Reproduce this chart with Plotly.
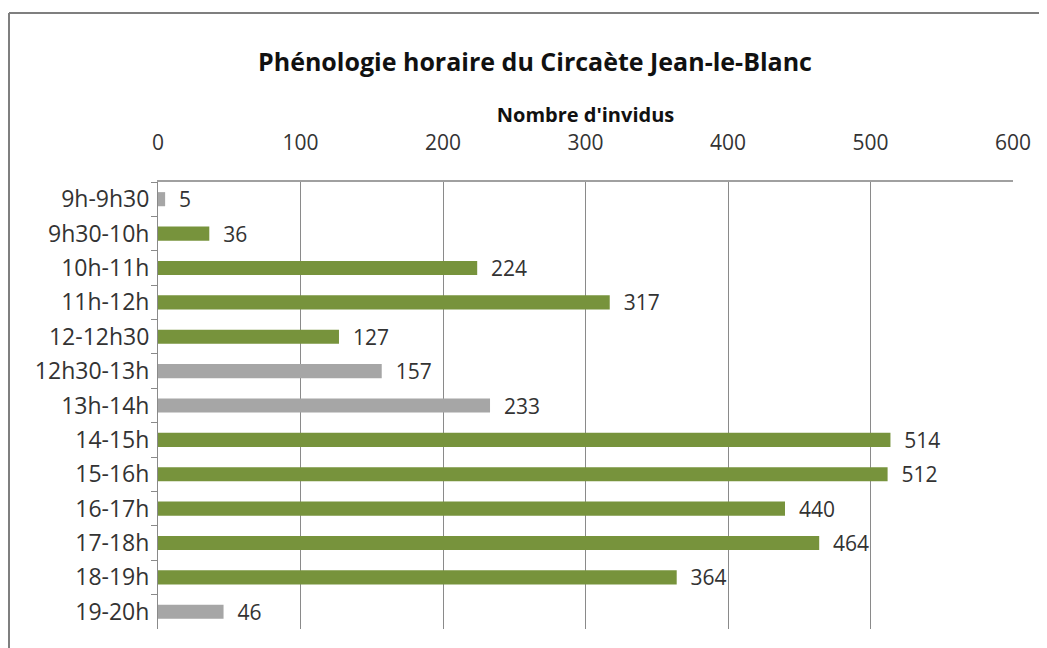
import plotly.graph_objects as go

categories = ["9h-9h30", "9h30-10h", "10h-11h", "11h-12h", "12-12h30", "12h30-13h", "13h-14h",
              "14-15h", "15-16h", "16-17h", "17-18h", "18-19h", "19-20h"]
counts = [5, 36, 224, 317, 127, 157, 233, 514, 512, 440, 464, 364, 46]
is_grey = [True, False, False, False, False, True, True, False, False, False, False, False, True]

GREEN = "#77933c"
GREY = "#a6a6a6"
bar_colors = [GREY if g else GREEN for g in is_grey]
FONT = "'Open Sans', 'Noto Sans', sans-serif"

# the page body has an 8px margin, so the figure is sized to fill the rest of the window
W, H = 1039, 640
ml, mr, mt, mb = 150, 34, 174, 19
pw, ph = W - ml - mr, H - mt - mb

frame_x = (1 - ml) / pw
frame_y = (H - 5 - mb) / ph
frame_line = dict(color="#7f7f7f", width=2)

fig = go.Figure()
fig.add_trace(
    go.Bar(
        y=categories, x=counts,
        orientation="h",
        marker=dict(color=bar_colors, line=dict(width=0)),
        text=counts,
        texttemplate="  %{text}",
        textposition="outside",
        constraintext="none",
        cliponaxis=False,
        textfont=dict(family=FONT, size=21, color="#333333"),
        hoverinfo="skip",
    )
)

fig.update_layout(
    width=W, height=H,
    margin=dict(l=ml, r=mr, t=mt, b=mb),
    paper_bgcolor="white",
    plot_bgcolor="white",
    showlegend=False,
    bargap=0.59,
    font=dict(family=FONT, color="#333333"),
    title=dict(
        text="<b>Phénologie horaire du Circaète Jean-le-Blanc</b>",
        x=(527 / W), xanchor="center",
        y=1 - 54 / H, yanchor="middle",
        font=dict(size=25, color="#111111"),
    ),
    xaxis=dict(
        side="top",
        range=[0, 600],
        dtick=100,
        automargin=False,
        showgrid=True,
        gridcolor="#8a8a8a",
        gridwidth=1,
        showline=True,
        linecolor="#a0a0a0",
        linewidth=2,
        zeroline=False,
        ticks="",
        ticklabelstandoff=22,
        tickfont=dict(size=21, color="#333333"),
        title=dict(text="<b>Nombre d'invidus</b>", font=dict(size=20, color="#111111"), standoff=0),
        fixedrange=True,
    ),
    yaxis=dict(
        autorange="reversed",
        automargin=False,
        showline=True,
        linecolor="#8a8a8a",
        linewidth=1,
        ticks="outside",
        tickson="boundaries",
        ticklen=6,
        tickcolor="#8a8a8a",
        showgrid=False,
        tickfont=dict(size=23, color="#333333"),
        ticklabelstandoff=3,
        fixedrange=True,
    ),
    shapes=[
        # top and left edges of the chart frame (the rest is cropped off in the original)
        dict(type="line", xref="paper", yref="paper",
             x0=frame_x, x1=(W - ml) / pw, y0=frame_y, y1=frame_y,
             line=frame_line, layer="below"),
        dict(type="line", xref="paper", yref="paper",
             x0=frame_x, x1=frame_x, y0=-mb / ph, y1=frame_y,
             line=frame_line, layer="below"),
    ],
)

fig.write_html("out.html")
